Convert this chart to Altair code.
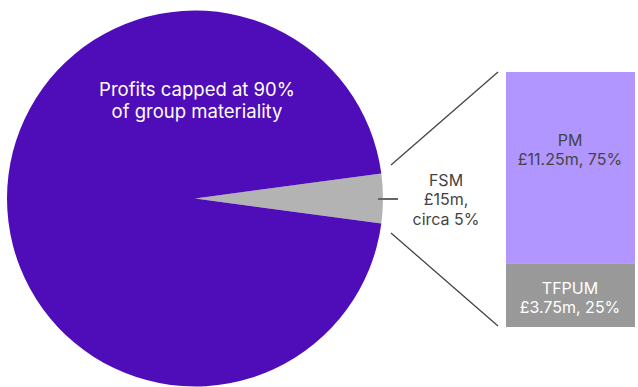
import math
import altair as alt
import pandas as pd

# ---- data ----
pie_names = ["FSM", "Profits"]
pie_shares = [4.25, 95.75]          # (~15 deg)
pie_label = "Profits capped at 90%\nof group materiality"
fsm_label = "FSM\n£15m,\ncirca 5%"

bar_names = ["TFPUM", "PM"]          # bottom to top
bar_values = [3.75, 11.25]           # £m
bar_pcts = [25, 75]

FONT = "Inter"
PURPLE = "#4F0CB9"
GREY_SLICE = "#B3B3B3"
PM_COL = "#B296FF"
TF_COL = "#999999"
DARK = "#444444"

pie_df = pd.DataFrame({"name": pie_names, "share": pie_shares, "ord": [0, 1]})
bar_df = pd.DataFrame({"name": bar_names, "value": bar_values, "ord": [0, 1]})
bar_labels = [f"{n}\n£{v:g}m, {p}%" for n, v, p in zip(bar_names, bar_values, bar_pcts)]

cx, cy, R = 195, 198.5, 188
frac = pie_shares[0] / sum(pie_shares)
start = math.pi / 2 - frac * math.pi

pie = alt.Chart(pie_df).mark_arc(outerRadius=R, stroke=None).encode(
    theta=alt.Theta("share:Q", stack=True,
                    scale=alt.Scale(range=[start, start + 2 * math.pi])),
    color=alt.Color("name:N", scale=alt.Scale(domain=pie_names, range=[GREY_SLICE, PURPLE]), legend=None),
    order=alt.Order("ord:Q"),
    x=alt.value(cx), y=alt.value(cy),
)

bar = alt.Chart(bar_df).transform_stack(
    stack="value", groupby=[], as_=["v0", "v1"], sort=[alt.SortField("ord", order="ascending")]
).mark_rect(stroke=None).encode(
    y=alt.Y("v0:Q", axis=None,
            scale=alt.Scale(domain=[0, sum(bar_values)], range=[327, 72], nice=False, zero=True)),
    y2="v1:Q",
    color=alt.Color("name:N", scale=alt.Scale(domain=["PM", "TFPUM"], range=[PM_COL, TF_COL]), legend=None),
    x=alt.value(506), x2=alt.value(635),
)

one = pd.DataFrame({"a": [0]})

def rule(x1, y1, x2, y2, color=DARK, w=1.3):
    return alt.Chart(one).mark_rule(color=color, strokeWidth=w).encode(
        x=alt.value(x1), y=alt.value(y1), x2=alt.value(x2), y2=alt.value(y2))

lines = [
    rule(391, 165, 498, 72),
    rule(391, 233, 498, 326),
    rule(378, 199, 398, 199, color="#666666", w=2),
]

def label(txt, x, y, color, size, lh):
    return alt.Chart(pd.DataFrame({"t": [txt]})).mark_text(
        font=FONT, fontSize=size, color=color, align="center", baseline="middle",
        lineBreak="\n", lineHeight=lh).encode(
        text="t:N", x=alt.value(x), y=alt.value(y))

texts = [
    label(pie_label, 197, 90, "white", 18.5, 22),
    label(fsm_label, 446, 180.5, DARK, 16, 19.5),
    label(bar_labels[1], 570, 140.5, DARK, 16, 19),
    label(bar_labels[0], 570, 288.5, "white", 16, 19),
]

chart = alt.layer(pie, bar, *lines, *texts).resolve_scale(
    color="independent", y="independent", theta="independent"
).properties(
    width=638, height=387, padding=0, autosize=alt.AutoSizeParams(type="none"),
    background="white"
).configure_view(stroke=None)

chart.save("out.html", embed_options={"renderer": "svg", "actions": False})
